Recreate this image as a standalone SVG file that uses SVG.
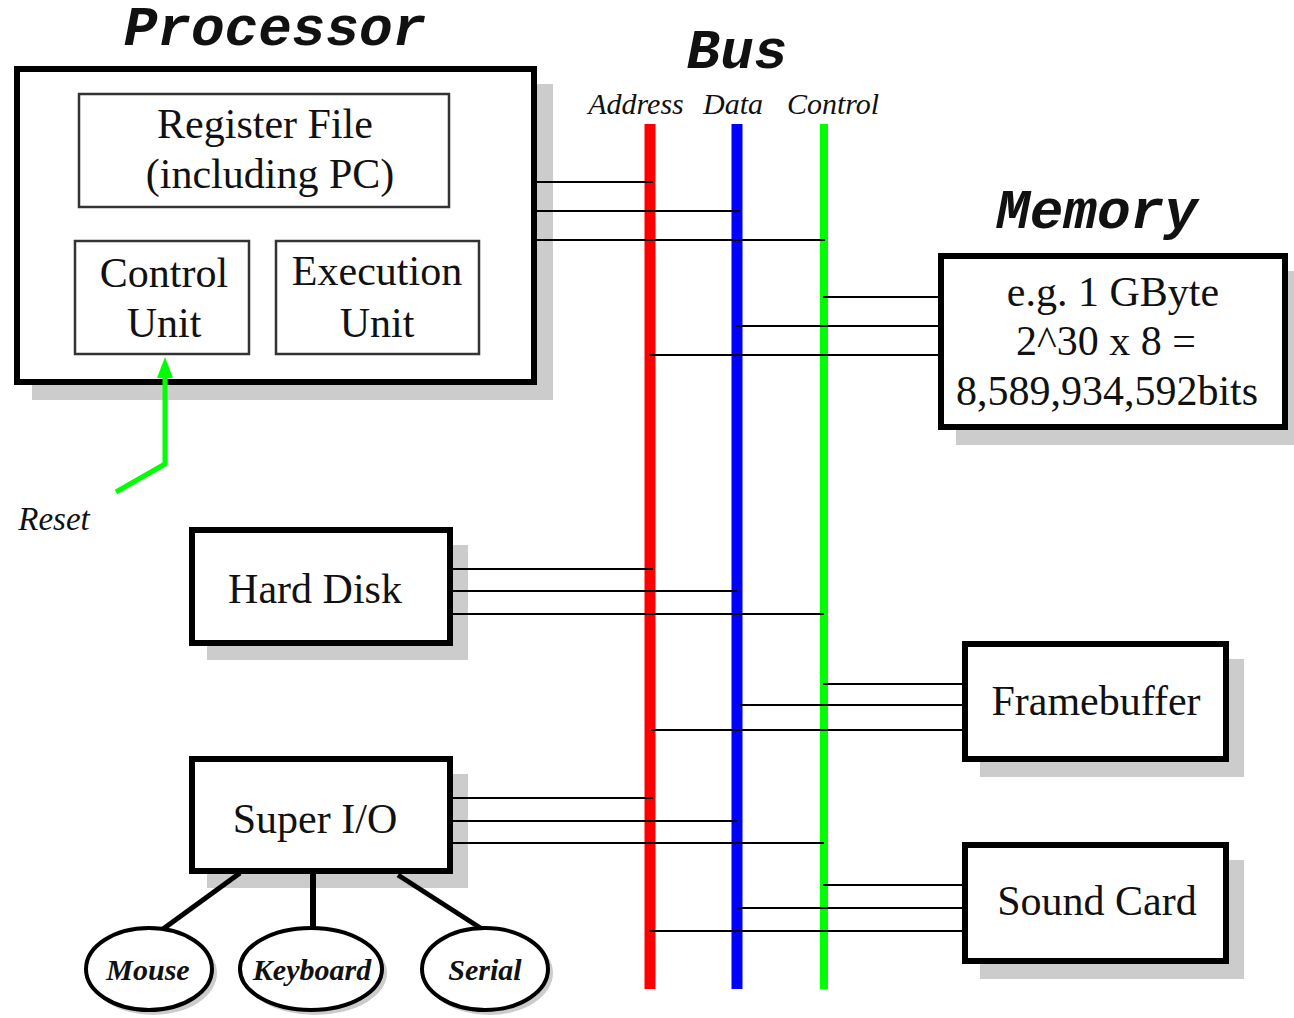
<svg xmlns="http://www.w3.org/2000/svg" width="1294" height="1018" viewBox="0 0 1294 1018">
<style>
.title{font-family:"Liberation Mono",monospace;font-weight:bold;font-style:italic;font-size:56px;fill:#111;text-anchor:middle}
.lbl{font-family:"Liberation Serif",serif;font-size:42px;fill:#111;text-anchor:middle}
.bus{font-family:"Liberation Serif",serif;font-style:italic;font-size:30px;fill:#111;text-anchor:middle}
.ell{font-family:"Liberation Serif",serif;font-style:italic;font-weight:bold;font-size:30px;fill:#111;text-anchor:middle}
.box{fill:#fff;stroke:#000;stroke-width:6}
.inner{fill:#fff;stroke:#333;stroke-width:2.5}
.shadow{fill:#cccccc}
.wire{stroke:#000;stroke-width:2;fill:none}
.thick{stroke:#000;stroke-width:5;fill:none}
</style>
<rect width="1294" height="1018" fill="#fff"/>

<text class="title" x="275" y="45">Processor</text>
<text class="title" x="737" y="68">Bus</text>
<text class="title" x="1097" y="228">Memory</text>

<g id="bus">
<text class="bus" x="636" y="114">Address</text>
<text class="bus" x="733" y="114">Data</text>
<text class="bus" x="833" y="114">Control</text>
<line x1="650" y1="124" x2="650" y2="989" stroke="#ff0000" stroke-width="11"/>
<line x1="737" y1="124" x2="737" y2="989" stroke="#0000ff" stroke-width="11"/>
<line x1="824" y1="124" x2="824" y2="989" stroke="#00ff00" stroke-width="8"/>
</g>

<g id="processor">
<rect class="shadow" x="32" y="84" width="521" height="316"/>
<rect class="box" x="17" y="69" width="517" height="313"/>
</g>
<g id="register-file">
<rect class="inner" x="79" y="94" width="370" height="113"/>
<text class="lbl" x="265" y="138">Register File</text>
<text class="lbl" x="270" y="188">(including PC)</text>
</g>
<g id="control-unit">
<rect class="inner" x="75" y="241" width="174" height="113"/>
<text class="lbl" x="164" y="287">Control</text>
<text class="lbl" x="164" y="337">Unit</text>
</g>
<g id="execution-unit">
<rect class="inner" x="276" y="241" width="203" height="113"/>
<text class="lbl" x="377" y="285">Execution</text>
<text class="lbl" x="377" y="337">Unit</text>
</g>

<text x="54" y="530" font-family="Liberation Serif, serif" font-style="italic" font-size="33" fill="#111" text-anchor="middle">Reset</text>

<g id="memory">
<rect class="shadow" x="956" y="271" width="344" height="174"/>
<rect class="box" x="941" y="256" width="344" height="171"/>
<text class="lbl" x="1113" y="306">e.g. 1 GByte</text>
<text class="lbl" x="1106" y="355">2^30 x 8 =</text>
<text class="lbl" x="1107" y="405">8,589,934,592bits</text>
</g>

<g id="hard-disk">
<rect class="shadow" x="207" y="545" width="261" height="115"/>
<rect class="box" x="192" y="530" width="258" height="113"/>
<text class="lbl" x="315" y="603">Hard Disk</text>
</g>

<g id="super-io">
<rect class="shadow" x="207" y="774" width="261" height="114"/>
<rect class="box" x="192" y="759" width="258" height="112"/>
<text class="lbl" x="315" y="833">Super I/O</text>
</g>

<g id="framebuffer">
<rect class="shadow" x="980" y="659" width="264" height="118"/>
<rect class="box" x="965" y="644" width="261" height="115"/>
<text class="lbl" x="1096" y="715">Framebuffer</text>
</g>

<g id="sound-card">
<rect class="shadow" x="980" y="860" width="264" height="119"/>
<rect class="box" x="965" y="845" width="261" height="116"/>
<text class="lbl" x="1097" y="915">Sound Card</text>
</g>

<g id="connectors">
<line class="wire" x1="537" y1="182" x2="653" y2="182"/>
<line class="wire" x1="537" y1="211" x2="740" y2="211"/>
<line class="wire" x1="537" y1="240" x2="825" y2="240"/>
<line class="wire" x1="823" y1="297" x2="939" y2="297"/>
<line class="wire" x1="736" y1="326" x2="939" y2="326"/>
<line class="wire" x1="649" y1="355" x2="939" y2="355"/>
<line class="wire" x1="452" y1="569" x2="653" y2="569"/>
<line class="wire" x1="452" y1="591" x2="737" y2="591"/>
<line class="wire" x1="452" y1="614" x2="824" y2="614"/>
<line class="wire" x1="823" y1="684" x2="963" y2="684"/>
<line class="wire" x1="740" y1="705" x2="963" y2="705"/>
<line class="wire" x1="651" y1="730" x2="963" y2="730"/>
<line class="wire" x1="452" y1="798" x2="653" y2="798"/>
<line class="wire" x1="452" y1="821" x2="737" y2="821"/>
<line class="wire" x1="452" y1="843" x2="824" y2="843"/>
<line class="wire" x1="823" y1="885" x2="963" y2="885"/>
<line class="wire" x1="737" y1="908" x2="963" y2="908"/>
<line class="wire" x1="649" y1="931" x2="963" y2="931"/>
<line class="thick" x1="240" y1="873" x2="163" y2="929"/>
<line x1="313" y1="873" x2="313" y2="929" stroke="#000" stroke-width="6"/>
<line class="thick" x1="398" y1="875" x2="482" y2="929"/>
<polyline points="116,492 165,464 165,375" fill="none" stroke="#00ff00" stroke-width="5"/>
<polygon points="165,357 157,378 173,378" fill="#00ff00"/>
</g>

<g id="mouse">
<ellipse cx="153" cy="973" rx="64" ry="42" fill="#ccc"/>
<ellipse cx="149" cy="969" rx="63" ry="41" fill="#fff" stroke="#000" stroke-width="4"/>
<text class="ell" x="148" y="980">Mouse</text>
</g>
<g id="keyboard">
<ellipse cx="315" cy="973" rx="72" ry="42" fill="#ccc"/>
<ellipse cx="311" cy="969" rx="71" ry="41" fill="#fff" stroke="#000" stroke-width="4"/>
<text class="ell" x="312" y="980">Keyboard</text>
</g>
<g id="serial">
<ellipse cx="489" cy="973" rx="64" ry="42" fill="#ccc"/>
<ellipse cx="485" cy="969" rx="63" ry="41" fill="#fff" stroke="#000" stroke-width="4"/>
<text class="ell" x="485" y="980">Serial</text>
</g>
</svg>
